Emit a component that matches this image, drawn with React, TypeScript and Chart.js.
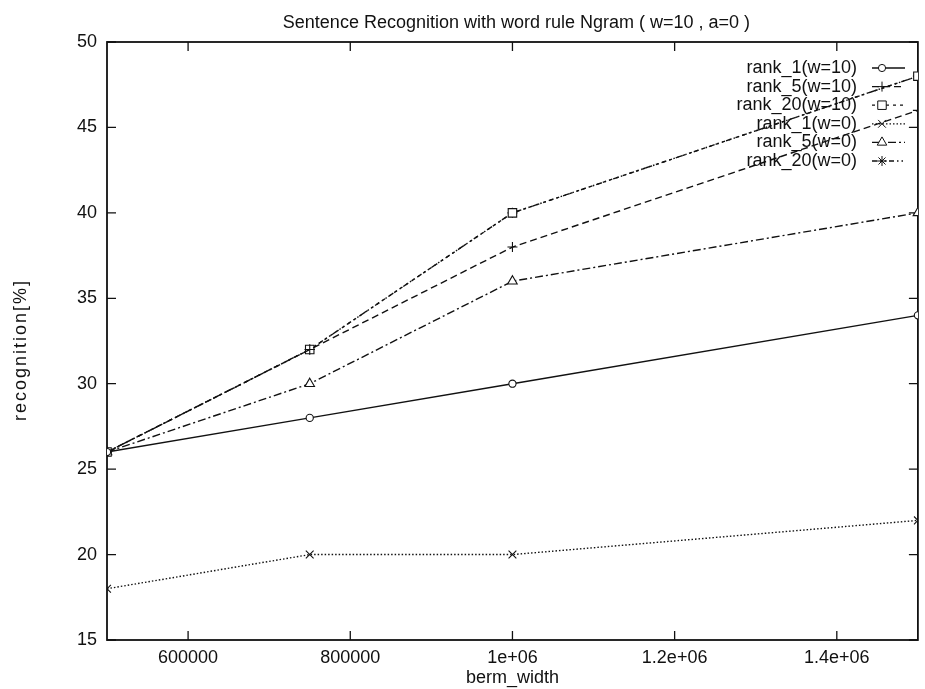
import React, { useEffect, useRef } from 'react';
import { Chart, registerables } from 'chart.js';
import { drawPoint } from 'chart.js/helpers';

Chart.register(...registerables);

// berm_width sample positions (x) and recognition rates in percent (y)
const bermWidth = [500000, 750000, 1000000, 1500000];
const rank1W10 = [26, 28, 30, 34];
const rank5W10 = [26, 32, 38, 46];
const rank20W10 = [26, 32, 40, 48];
const rank1W0 = [18, 20, 20, 22];
const rank5W0 = [26, 30, 36, 40];
const rank20W0 = [26, 32, 40, 48];

const seriesLabels = [
  'rank_1(w=10)',
  'rank_5(w=10)',
  'rank_20(w=10)',
  'rank_1(w=0)',
  'rank_5(w=0)',
  'rank_20(w=0)',
];

const xTicks = [600000, 800000, 1000000, 1200000, 1400000];
const xTickLabels = ['600000', '800000', '1e+06', '1.2e+06', '1.4e+06'];
const yTicks = [15, 20, 25, 30, 35, 40, 45, 50];

const chartTitle = 'Sentence Recognition with word rule Ngram ( w=10 , a=0 )';
const xTitle = 'berm_width';
const yTitle = 'recognition[%]';

const FONT = '"Liberation Sans", Arial, Helvetica, sans-serif';
const INK = '#111';

type Style = { dash: number[]; point: string; radius: number };
const styles: Style[] = [
  { dash: [], point: 'circle', radius: 3.6 },
  { dash: [7, 4], point: 'cross', radius: 5 },
  { dash: [3, 4], point: 'rect', radius: 6 },
  { dash: [1.5, 2], point: 'crossRot', radius: 5.5 },
  { dash: [8, 3, 2, 3], point: 'triangle', radius: 5.5 },
  { dash: [5, 3, 1.5, 3, 1.5, 3], point: 'star', radius: 5 },
];

const seriesValues = [rank1W10, rank5W10, rank20W10, rank1W0, rank5W0, rank20W0];

// Frame with inward ticks on all four sides, plus title, axis titles and key
const gnuplotLook = {
  id: 'gnuplotLook',
  beforeDatasetsDraw(chart: any) {
    const { ctx, chartArea: a, scales } = chart;
    ctx.save();
    ctx.strokeStyle = INK;
    ctx.setLineDash([]);
    ctx.lineWidth = 1.8;
    ctx.strokeRect(a.left, a.top, a.right - a.left, a.bottom - a.top);
    ctx.lineWidth = 1.3;
    const t = 9;
    ctx.beginPath();
    for (const v of xTicks) {
      const x = scales.x.getPixelForValue(v);
      ctx.moveTo(x, a.bottom);
      ctx.lineTo(x, a.bottom - t);
      ctx.moveTo(x, a.top);
      ctx.lineTo(x, a.top + t);
    }
    for (const v of yTicks) {
      const y = scales.y.getPixelForValue(v);
      ctx.moveTo(a.left, y);
      ctx.lineTo(a.left + t, y);
      ctx.moveTo(a.right, y);
      ctx.lineTo(a.right - t, y);
    }
    ctx.stroke();
    ctx.restore();
  },
  afterDraw(chart: any) {
    const { ctx, chartArea: a } = chart;
    const cx = (a.left + a.right) / 2;
    ctx.save();
    ctx.fillStyle = INK;
    ctx.font = `18px ${FONT}`;
    ctx.textAlign = 'center';
    ctx.textBaseline = 'alphabetic';
    ctx.fillText(chartTitle, cx + 4, 28);
    ctx.fillText(xTitle, cx, 683);

    ctx.save();
    ctx.translate(25.5, 350);
    ctx.rotate(-Math.PI / 2);
    (ctx as any).letterSpacing = '2px';
    ctx.fillText(yTitle, 0, 0);
    ctx.restore();

    // key
    ctx.textAlign = 'right';
    ctx.textBaseline = 'middle';
    chart.data.datasets.forEach((ds: any, i: number) => {
      const y = 68 + i * 18.6;
      ctx.fillStyle = INK;
      ctx.fillText(ds.label, 857, y);
      ctx.strokeStyle = INK;
      ctx.lineWidth = 1.3;
      ctx.setLineDash(ds.borderDash || []);
      ctx.beginPath();
      ctx.moveTo(872, y);
      ctx.lineTo(905, y);
      ctx.stroke();
      ctx.setLineDash([]);
      ctx.fillStyle = '#fff';
      ctx.lineWidth = 1;
      drawPoint(ctx, { pointStyle: ds.pointStyle, radius: ds.pointRadius, rotation: 0, borderWidth: 1 } as any, 882, y);
    });
    ctx.restore();
  },
};

export default function App() {
  const canvasRef = useRef<HTMLCanvasElement | null>(null);

  useEffect(() => {
    document.body.style.margin = '0';
    const canvas = canvasRef.current;
    if (!canvas) return;

    const datasets = seriesLabels.map((label, i) => ({
      label,
      data: bermWidth.map((x, j) => ({ x, y: seriesValues[i][j] })),
      borderColor: INK,
      borderWidth: 1.4,
      borderDash: styles[i].dash,
      pointStyle: styles[i].point,
      pointRadius: styles[i].radius,
      pointBorderWidth: 1.1,
      pointBorderColor: INK,
      pointBackgroundColor: '#fff',
      tension: 0,
      fill: false,
    }));

    const chart = new Chart(canvas, {
      type: 'line',
      data: { datasets },
      options: {
        responsive: false,
        maintainAspectRatio: false,
        animation: false,
        devicePixelRatio: 1,
        layout: { padding: { top: 42, right: 3, left: 0, bottom: 0 } },
        plugins: {
          legend: { display: false },
          title: { display: false },
          tooltip: { enabled: false },
        },
        scales: {
          x: {
            type: 'linear',
            min: 500000,
            max: 1500000,
            grid: { display: false, drawTicks: false, tickLength: 0 },
            border: { display: false },
            afterBuildTicks: (s: any) => {
              s.ticks = xTicks.map((value) => ({ value }));
            },
            afterFit: (s: any) => {
              s.height = 49;
            },
            ticks: {
              color: INK,
              padding: 7,
              maxRotation: 0,
              autoSkip: false,
              font: { family: FONT, size: 18 },
              callback: (value: any) => {
                const k = xTicks.indexOf(Number(value));
                return k >= 0 ? xTickLabels[k] : '';
              },
            },
          },
          y: {
            type: 'linear',
            min: 15,
            max: 50,
            grid: { display: false, drawTicks: false, tickLength: 0 },
            border: { display: false },
            afterBuildTicks: (s: any) => {
              s.ticks = yTicks.map((value) => ({ value }));
            },
            afterFit: (s: any) => {
              s.width = 107;
            },
            ticks: {
              color: INK,
              padding: 10,
              autoSkip: false,
              font: { family: FONT, size: 18 },
            },
          },
        },
      } as any,
      plugins: [gnuplotLook],
    });

    return () => chart.destroy();
  }, []);

  return (
    <div style={{ position: 'absolute', left: 0, top: 0, width: 925, height: 689, background: '#fff' }}>
      <canvas ref={canvasRef} width={925} height={689} style={{ display: 'block' }} />
    </div>
  );
}
